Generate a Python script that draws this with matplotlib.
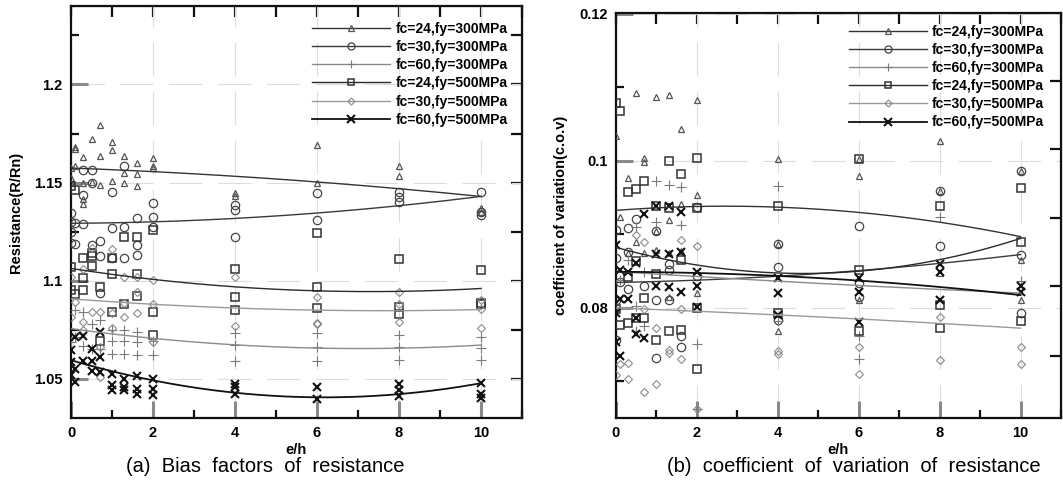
import numpy as np
import matplotlib
matplotlib.use("Agg")
import matplotlib.pyplot as plt
from matplotlib.ticker import MultipleLocator, FuncFormatter
from matplotlib.lines import Line2D

plt.rcParams['font.family'] = ['Liberation Sans', 'DejaVu Sans']

labels = ["fc=24,fy=300MPa", "fc=30,fy=300MPa", "fc=60,fy=300MPa",
          "fc=24,fy=500MPa", "fc=30,fy=500MPa", "fc=60,fy=500MPa"]

# ---------------- (a) bias factors: scatter data ----------------
bias_s1_x = [0, 0, 0, 0.1, 0.1, 0.1, 0.3, 0.3, 0.3, 0.3, 0.5, 0.5, 0.7, 0.7, 0.7, 1.0, 1.0, 1.0,
             1.3, 1.3, 1.3, 1.6, 1.6, 1.6, 2, 2, 2, 4, 4, 6, 6, 8, 8, 10, 10]
bias_s1_y = [1.1574, 1.1522, 1.1497, 1.1681, 1.1672, 1.1585, 1.1628, 1.1498, 1.1416, 1.139,
             1.1722, 1.1505, 1.1795, 1.1633, 1.1488, 1.1705, 1.1667, 1.151,
             1.1636, 1.1551, 1.150, 1.1602, 1.1544, 1.1483, 1.1626, 1.1587, 1.1572,
             1.1447, 1.1432, 1.1693, 1.1498, 1.1582, 1.1531, 1.137, 1.135]
bias_s2_x = [0, 0, 0, 0, 0.1, 0.1, 0.3, 0.3, 0.3, 0.5, 0.5, 0.5, 0.7, 0.7, 0.7, 1.0, 1.0, 1.0,
             1.3, 1.3, 1.3, 1.6, 1.6, 1.6, 2, 2, 2, 4, 4, 4, 6, 6, 8, 8, 8, 10, 10, 10]
bias_s2_y = [1.1345, 1.1297, 1.125, 1.119, 1.1292, 1.1186, 1.1565, 1.1437, 1.129,
             1.1565, 1.1497, 1.118, 1.1203, 1.1125, 1.0937, 1.1454, 1.1266, 1.1116,
             1.1582, 1.1271, 1.1113, 1.1318, 1.1181, 1.113, 1.1395, 1.1324, 1.1275,
             1.1386, 1.136, 1.1222, 1.1445, 1.1309, 1.1454, 1.1428, 1.1403, 1.1454, 1.1334, 1.135]
bias_s3_x = [0, 0.1, 0.1, 0.3, 0.3, 0.5, 0.5, 0.7, 0.7, 1.0, 1.0, 1.0, 1.3, 1.3, 1.3,
             1.6, 1.6, 1.6, 2, 2, 4, 4, 4, 6, 6, 6, 8, 8, 8, 10, 10, 10]
bias_s3_y = [1.0686, 1.0848, 1.0712, 1.084, 1.0669, 1.078, 1.0652, 1.0802, 1.0652,
             1.075, 1.0694, 1.0628, 1.075, 1.0694, 1.0628, 1.0737, 1.0686, 1.0623,
             1.0694, 1.0623, 1.0732, 1.0674, 1.0592, 1.0732, 1.0664, 1.0592,
             1.0725, 1.066, 1.0597, 1.0715, 1.0658, 1.0597]
bias_s4_x = [0, 0, 0, 0.1, 0.1, 0.3, 0.3, 0.3, 0.5, 0.5, 0.5, 0.7, 0.7, 1.0, 1.0, 1.0,
             1.3, 1.3, 1.6, 1.6, 1.6, 2, 2, 2, 4, 4, 4, 6, 6, 6, 8, 8, 8, 10, 10, 10]
bias_s4_y = [1.148, 1.107, 1.0954, 1.146, 1.0934, 1.1116, 1.1016, 1.0954, 1.1141, 1.1124, 1.1074,
             1.0968, 1.0695, 1.1116, 1.1036, 1.084, 1.1222, 1.0882, 1.1224, 1.1033, 1.092,
             1.1258, 1.084, 1.0725, 1.1062, 1.0916, 1.0848, 1.1244, 1.0968, 1.0862,
             1.1108, 1.0865, 1.0831, 1.1053, 1.0885, 1.088]
bias_s5_x = [0, 0, 0.1, 0.3, 0.3, 0.3, 0.5, 0.5, 0.7, 0.7, 0.7, 1.0, 1.0, 1.0, 1.3, 1.3, 1.3,
             1.6, 1.6, 1.6, 2, 2, 2, 4, 4, 6, 6, 6, 8, 8, 8, 10, 10, 10]
bias_s5_y = [1.1019, 1.0817, 1.089, 1.1062, 1.0788, 1.0746, 1.1164, 1.084, 1.084, 1.066, 1.0507,
             1.1159, 1.0835, 1.076, 1.1019, 1.0886, 1.0814, 1.1019, 1.0942, 1.0835,
             1.1005, 1.0882, 1.0686, 1.1019, 1.0771, 1.0916, 1.0783, 1.0778,
             1.0942, 1.0883, 1.0788, 1.0904, 1.0857, 1.0759]
bias_s6_x = [0, 0, 0, 0.1, 0.1, 0.1, 0.3, 0.3, 0.5, 0.5, 0.5, 0.7, 0.7, 0.7, 1.0, 1.0, 1.0,
             1.3, 1.3, 1.3, 1.6, 1.6, 1.6, 2, 2, 2, 4, 4, 4, 6, 6, 8, 8, 8, 10, 10, 10]
bias_s6_y = [1.0647, 1.0584, 1.052, 1.0712, 1.0549, 1.0486, 1.072, 1.0592, 1.0652, 1.0592, 1.0541,
             1.0737, 1.061, 1.0532, 1.0524, 1.047, 1.0442, 1.0498, 1.0456, 1.0445,
             1.0515, 1.0447, 1.0421, 1.0498, 1.0447, 1.0418, 1.0473, 1.0456, 1.0422,
             1.0459, 1.0396, 1.0473, 1.0442, 1.0413, 1.0476, 1.0422, 1.0401]

# trend-line values read at these e/h
trend_x = [0, 2, 4, 6, 8, 10]
bias_t1 = [1.1575, 1.1555, 1.1530, 1.1505, 1.1470, 1.1428]
bias_t2 = [1.1293, 1.1300, 1.1315, 1.1345, 1.1385, 1.1428]
bias_t3 = [1.0750, 1.0715, 1.0675, 1.0650, 1.0653, 1.0675]
bias_t4 = [1.1063, 1.1005, 1.0968, 1.0950, 1.0945, 1.0960]
bias_t5 = [1.0905, 1.0885, 1.0858, 1.0848, 1.0848, 1.0853]
bias_t6 = [1.0590, 1.0500, 1.0430, 1.0400, 1.0420, 1.0480]

# ---------------- (b) coefficient of variation ----------------
cov_s1_x = [0, 0.1, 0.3, 0.3, 0.5, 0.5, 0.7, 0.7, 0.7, 1.0, 1.0, 1.0, 1.3, 1.3, 1.3, 1.3,
            1.6, 1.6, 1.6, 2, 2, 2, 4, 4, 4, 6, 6, 6, 8, 8, 8, 10, 10, 10]
cov_s1_y = [0.1034, 0.0924, 0.0977, 0.0875, 0.1092, 0.0890, 0.1004, 0.0998, 0.0875,
            0.1087, 0.0905, 0.0878, 0.1089, 0.0919, 0.0875, 0.0815, 0.1043, 0.0941, 0.0877,
            0.1082, 0.0953, 0.0820, 0.1002, 0.0887, 0.0768, 0.1002, 0.0979, 0.0811,
            0.1027, 0.0959, 0.0847, 0.0986, 0.0865, 0.0811]
cov_s2_x = [0, 0, 0, 0, 0.1, 0.3, 0.3, 0.3, 0.5, 0.7, 1.0, 1.0, 1.0, 1.3, 1.3, 1.3, 1.6, 1.6,
            2, 2, 4, 4, 4, 6, 6, 6, 8, 8, 10, 10, 10]
cov_s2_y = [0.0906, 0.0867, 0.0811, 0.0756, 0.0835, 0.0908, 0.0876, 0.0825, 0.0921, 0.0829,
            0.0905, 0.0811, 0.0732, 0.0860, 0.0851, 0.0811, 0.0761, 0.0746,
            0.0937, 0.0843, 0.0887, 0.0856, 0.0784, 0.0911, 0.0834, 0.0814,
            0.0959, 0.0884, 0.0986, 0.0872, 0.0793]
cov_s3_x = [0.1, 0.3, 0.5, 0.5, 0.5, 0.7, 0.7, 1.0, 1.0, 1.3, 1.6, 1.6, 2, 2, 4, 4, 6, 6, 8, 10]
cov_s3_y = [0.0838, 0.0865, 0.0910, 0.0802, 0.0768, 0.0849, 0.0775, 0.0973, 0.0917, 0.0967,
            0.0964, 0.0913, 0.0750, 0.0662, 0.0966, 0.0782, 0.0761, 0.0730, 0.0923, 0.0836]
cov_s4_x = [0, 0, 0.1, 0.1, 0.3, 0.3, 0.3, 0.5, 0.5, 0.5, 0.7, 0.7, 0.7, 1.0, 1.0, 1.0,
            1.3, 1.3, 1.3, 1.6, 1.6, 1.6, 2, 2, 2, 2, 4, 4, 6, 6, 6, 8, 8, 8, 10, 10, 10]
cov_s4_y = [0.1079, 0.0798, 0.1068, 0.0776, 0.0957, 0.0842, 0.0779, 0.0962, 0.0863, 0.0786,
            0.0973, 0.0813, 0.0786, 0.0939, 0.0846, 0.0756, 0.1000, 0.0936, 0.0768,
            0.0982, 0.0865, 0.0770, 0.1004, 0.0936, 0.0800, 0.0716, 0.0939, 0.0793,
            0.1002, 0.0851, 0.0768, 0.0938, 0.0804, 0.0773, 0.0963, 0.0890, 0.0782]
cov_s5_x = [0, 0.1, 0.3, 0.3, 0.5, 0.7, 0.7, 0.7, 1.0, 1.0, 1.3, 1.3, 1.6, 1.6, 1.6, 2, 2,
            4, 4, 6, 6, 8, 8, 10, 10]
cov_s5_y = [0.0709, 0.0723, 0.0725, 0.0703, 0.0899, 0.0890, 0.0798, 0.0685, 0.0773, 0.0696,
            0.0743, 0.0738, 0.0892, 0.0798, 0.0730, 0.0884, 0.0662,
            0.0741, 0.0737, 0.0746, 0.0710, 0.0788, 0.0729, 0.0747, 0.0723]
cov_s6_x = [0, 0, 0, 0.1, 0.1, 0.1, 0.3, 0.3, 0.5, 0.5, 0.5, 0.7, 0.7, 1.0, 1.0, 1.0,
            1.3, 1.3, 1.3, 1.6, 1.6, 1.6, 2, 2, 2, 4, 4, 4, 6, 6, 6, 8, 8, 8, 10, 10]
cov_s6_y = [0.0885, 0.0793, 0.0753, 0.0851, 0.0812, 0.0735, 0.0849, 0.0812, 0.0861, 0.0786,
            0.0764, 0.0928, 0.0759, 0.0939, 0.0873, 0.0830, 0.0939, 0.0873, 0.0828,
            0.0930, 0.0876, 0.0822, 0.0849, 0.0830, 0.0801, 0.0840, 0.0820, 0.0790,
            0.0840, 0.0822, 0.0780, 0.0859, 0.0849, 0.0811, 0.0829, 0.0822]

cov_t1 = [0.0932, 0.0938, 0.0938, 0.0930, 0.0914, 0.0898]
cov_t2 = [0.0833, 0.0839, 0.0845, 0.0849, 0.0858, 0.0874]
cov_t3 = [0.0849, 0.0843, 0.0836, 0.0830, 0.0825, 0.0820]
cov_t4 = [0.0884, 0.0856, 0.0845, 0.0851, 0.0869, 0.0892]
cov_t5 = [0.0800, 0.0795, 0.0790, 0.0785, 0.0779, 0.0772]
cov_t6 = [0.0850, 0.0846, 0.0842, 0.0838, 0.0830, 0.0816]

# ---------------- styles ----------------
styles = [
    dict(marker='^', ms=4.5, mec='#555555', mew=0.9, lc='#333333', lw=1.0),
    dict(marker='o', ms=6.0, mec='#444444', mew=0.9, lc='#3a3a3a', lw=1.0),
    dict(marker='+', ms=7.0, mec='#7a7a7a', mew=0.8, lc='#8a8a8a', lw=1.0),
    dict(marker='s', ms=5.5, mec='#333333', mew=1.1, lc='#2a2a2a', lw=1.0),
    dict(marker='D', ms=4.2, mec='#8a8a8a', mew=0.8, lc='#9a9a9a', lw=1.0),
    dict(marker='x', ms=6.0, mec='#111111', mew=1.5, lc='#111111', lw=1.3),
]

W, H = 1063, 487
fig = plt.figure(figsize=(W / 100, H / 100), dpi=100)


def px_axes(x0, y0, x1, y1):
    return fig.add_axes([x0 / W, 1 - y1 / H, (x1 - x0) / W, (y1 - y0) / H])


def style_axes(ax, ylim, ymajor, yminor, fmt, right_ticks=None):
    ax.set_xlim(0, 11)
    ax.set_ylim(*ylim)
    ax.xaxis.set_major_locator(MultipleLocator(2))
    ax.xaxis.set_minor_locator(MultipleLocator(1))
    ax.yaxis.set_major_locator(MultipleLocator(ymajor))
    ax.yaxis.set_minor_locator(MultipleLocator(yminor))
    ax.yaxis.set_major_formatter(FuncFormatter(fmt))
    ax.xaxis.set_major_formatter(FuncFormatter(lambda v, p: "%d" % v if v <= 10 else ""))
    ax.tick_params(which='major', direction='in', length=12, width=2.2, color='#8a8a8a',
                   labelsize=10.5, pad=6)
    ax.tick_params(which='minor', direction='in', length=6, width=1.6, color='#111111')
    for lab in ax.get_xticklabels() + ax.get_yticklabels():
        lab.set_fontweight('bold')
    for s in ax.spines.values():
        s.set_linewidth(1.6)
        s.set_color('#111111')
    ax.grid(True, which='major', color='#dddddd', lw=0.8, linestyle=(0, (30, 14)))
    ax.set_axisbelow(True)
    # top ticks
    top = ax.secondary_xaxis('top')
    top.xaxis.set_major_locator(MultipleLocator(1))
    top.tick_params(direction='in', length=8, width=1.6, color='#111111', labeltop=False)
    # right ticks
    rt = ax.secondary_yaxis('right')
    if right_ticks is None:
        rt.yaxis.set_major_locator(MultipleLocator(yminor))
    else:
        rt.set_yticks(right_ticks)
    rt.tick_params(direction='in', length=8, width=1.6, color='#111111', labelright=False)


def draw(ax, sx, sy, st):
    xs = np.linspace(0, 10, 200)
    for (x, y, t), s in zip(zip(sx, sy, st), styles):
        ax.plot(x, y, linestyle='none', marker=s['marker'], ms=s['ms'], mfc='none',
                mec=s['mec'], mew=s['mew'], zorder=3)
        c = np.polyfit(trend_x, t, 2)
        ax.plot(xs, np.polyval(c, xs), color=s['lc'], lw=s['lw'], zorder=4)


def legend(ax, anchor):
    handles = [Line2D([], [], color=s['lc'], lw=s['lw'], marker=s['marker'],
                      ms=s['ms'] * 0.85, mfc='none', mec=s['mec'], mew=s['mew'])
               for s in styles]
    leg = ax.legend(handles, labels, loc='upper right', bbox_to_anchor=anchor,
                    frameon=False, numpoints=1, handlelength=5.6, handletextpad=0.4,
                    labelspacing=0.3, borderaxespad=0,
                    prop=dict(size=10, weight='bold'))
    leg.set_zorder(5)


# panel (a)
axa = px_axes(71, 6, 522, 418)
draw(axa, [bias_s1_x, bias_s2_x, bias_s3_x, bias_s4_x, bias_s5_x, bias_s6_x],
     [bias_s1_y, bias_s2_y, bias_s3_y, bias_s4_y, bias_s5_y, bias_s6_y],
     [bias_t1, bias_t2, bias_t3, bias_t4, bias_t5, bias_t6])
style_axes(axa, (1.03, 1.24), 0.05, 0.025, lambda v, p: "%g" % round(v, 3) if v > 1.031 and v < 1.23 else "")
legend(axa, (0.98, 0.975))
axa.set_ylabel("Resistance(R/Rn)", fontsize=10.5, fontweight='bold', labelpad=8)
axa.set_xlabel("e/h", fontsize=10.5, fontweight='bold', labelpad=2)

# panel (b)
axb = px_axes(616, 13, 1061, 418)
draw(axb, [cov_s1_x, cov_s2_x, cov_s3_x, cov_s4_x, cov_s5_x, cov_s6_x],
     [cov_s1_y, cov_s2_y, cov_s3_y, cov_s4_y, cov_s5_y, cov_s6_y],
     [cov_t1, cov_t2, cov_t3, cov_t4, cov_t5, cov_t6])
style_axes(axb, (0.065, 0.1201), 0.02, 0.01, lambda v, p: "%g" % round(v, 3),
           right_ticks=[0.0735, 0.0830, 0.0922, 0.1016, 0.1108])
legend(axb, (0.975, 0.985))
axb.set_ylabel("coefficient of variation(c.o.v)", fontsize=10.5, fontweight='bold', labelpad=8)
axb.set_xlabel("e/h", fontsize=10.5, fontweight='bold', labelpad=2)

fig.text(265 / W, 1 - 467 / H, "(a)  Bias  factors  of  resistance", ha='center', va='center',
         fontsize=14.5)
fig.text(854 / W, 1 - 467 / H, "(b)  coefficient  of  variation  of  resistance", ha='center',
         va='center', fontsize=14.5)

fig.savefig("out.png", dpi=100)
